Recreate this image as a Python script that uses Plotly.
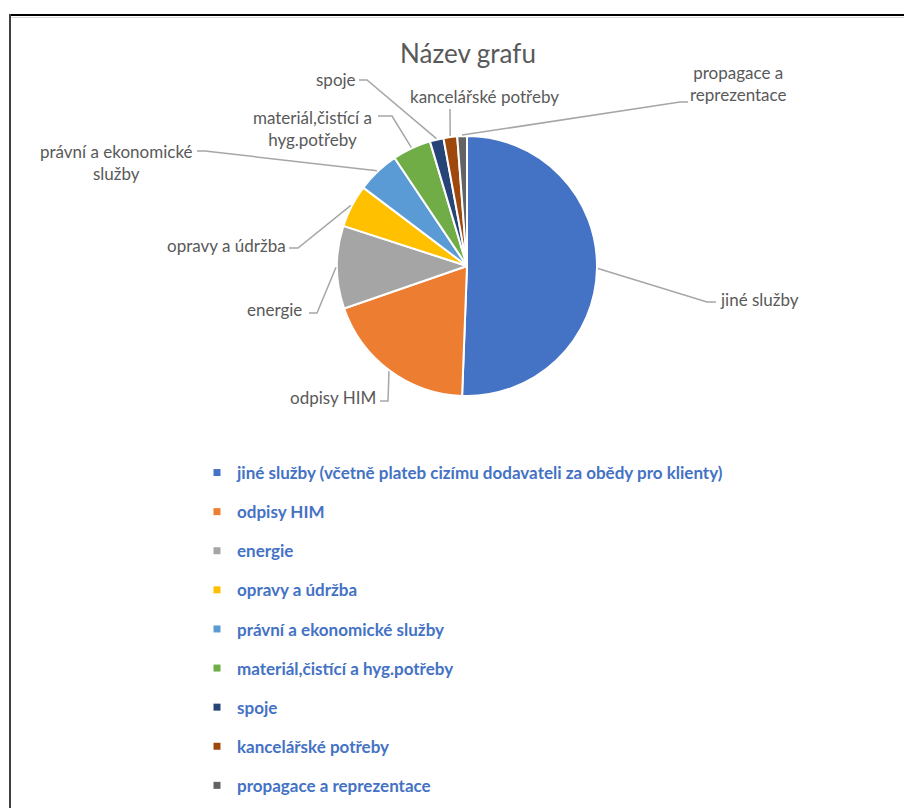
import math
import plotly.graph_objects as go

# ---------------- data ----------------
categories = [
    "jiné služby (včetně plateb cizímu dodavateli za obědy pro klienty)",
    "odpisy HIM",
    "energie",
    "opravy a údržba",
    "právní a ekonomické služby",
    "materiál,čistící a hyg.potřeby",
    "spoje",
    "kancelářské potřeby",
    "propagace a reprezentace",
]
slice_labels = [
    "jiné služby",
    "odpisy HIM",
    "energie",
    "opravy a údržba",
    "právní a ekonomické<br>služby",
    "materiál,čistící a<br>hyg.potřeby",
    "spoje",
    "kancelářské potřeby",
    "propagace a<br>reprezentace",
]
values = [50.6, 19.1, 10.3, 5.3, 5.3, 4.8, 1.7, 1.7, 1.2]
colors = ["#4472C4", "#ED7D31", "#A5A5A5", "#FFC000", "#5B9BD5",
          "#70AD47", "#264478", "#9E480E", "#636363"]

# ---------------- layout helpers ----------------
OFF = 8                      # page body margin
W, H = 912 - OFF, 808 - OFF  # figure size fitting the window
CX, CY, R = 467, 266, 130    # pie centre / radius in window pixels


def X(px):
    return (px - OFF) / W


def Y(py):
    return 1 - (py - OFF) / H


# label placement: (text x, text y, xanchor, elbow point, line end point)
label_pos = [
    (718, 299, "left", (707, 302), (716, 302)),
    (378, 397, "right", (388, 401), (380, 401)),
    (304, 310, "right", (317, 313), (309, 313)),
    (288, 245, "right", (298, 248), (289, 248)),
    (116, 162, "center", (205, 151), (197, 151)),
    (312, 128, "center", (392, 116), (378, 116)),
    (336, 80, "center", (367, 80), (359, 80)),
    (485, 97, "center", None, (450, 109)),
    (738, 84, "center", (680, 102), (688, 102)),
]

fig = go.Figure()

fig.add_trace(go.Pie(
    labels=categories,
    values=values,
    sort=False,
    direction="clockwise",
    rotation=0,
    marker=dict(colors=colors, line=dict(color="white", width=2)),
    textinfo="none",
    hoverinfo="label+value",
    showlegend=False,
    domain=dict(x=[X(CX - R), X(CX + R)], y=[Y(CY + R), Y(CY - R)]),
))

# legend entries (square markers, one group per category for spacing)
for name, col in zip(categories, colors):
    fig.add_trace(go.Scatter(
        x=[None], y=[None], mode="markers", name=name,
        legendgroup=name,
        marker=dict(symbol="square", size=7, color=col),
        hoverinfo="skip",
    ))

shapes = []
annotations = []
total = sum(values)
cum = 0.0
for v, lab, pos in zip(values, slice_labels, label_pos):
    mid = 2 * math.pi * (cum + v / 2) / total
    cum += v
    ex = CX + (R + 1) * math.sin(mid)
    ey = CY - (R + 1) * math.cos(mid)
    tx, ty, xa, elbow, end = pos
    pts = [(ex, ey)]
    if elbow is not None:
        pts.append(elbow)
    pts.append(end)
    path = "M " + " L ".join(f"{X(px)},{Y(py)}" for px, py in pts)
    shapes.append(dict(type="path", xref="paper", yref="paper", path=path,
                       line=dict(color="#A6A6A6", width=1.5)))
    annotations.append(dict(
        x=X(tx), y=Y(ty), xref="paper", yref="paper", text=lab,
        showarrow=False, xanchor=xa, yanchor="middle", align="center",
        font=dict(family="Lato", size=17, color="#595959"),
    ))

# chart frame lines
shapes.append(dict(type="line", xref="paper", yref="paper",
                   x0=X(10), x1=1, y0=Y(15), y1=Y(15),
                   line=dict(color="#000000", width=2)))
shapes.append(dict(type="line", xref="paper", yref="paper",
                   x0=X(10), x1=1, y0=Y(17.5), y1=Y(17.5),
                   line=dict(color="#D9D9D9", width=1)))
shapes.append(dict(type="line", xref="paper", yref="paper",
                   x0=X(10), x1=X(10), y0=Y(14), y1=0,
                   line=dict(color="#404040", width=2)))

fig.update_layout(
    width=W, height=H, autosize=False,
    margin=dict(l=0, r=0, t=0, b=0),
    paper_bgcolor="white", plot_bgcolor="white",
    title=dict(text="Název grafu", x=X(468), y=Y(54), xanchor="center",
               yanchor="middle",
               font=dict(family="Lato", size=26, color="#595959")),
    xaxis=dict(visible=False), yaxis=dict(visible=False),
    showlegend=True,
    legend=dict(x=X(197), y=Y(455), xanchor="left", yanchor="top",
                tracegroupgap=14, itemclick=False,
                font=dict(family="Lato", size=17, color="#4472C4",
                          weight="bold"),
                bgcolor="rgba(0,0,0,0)"),
    shapes=shapes,
    annotations=annotations,
)

fig.write_html("out.html")
